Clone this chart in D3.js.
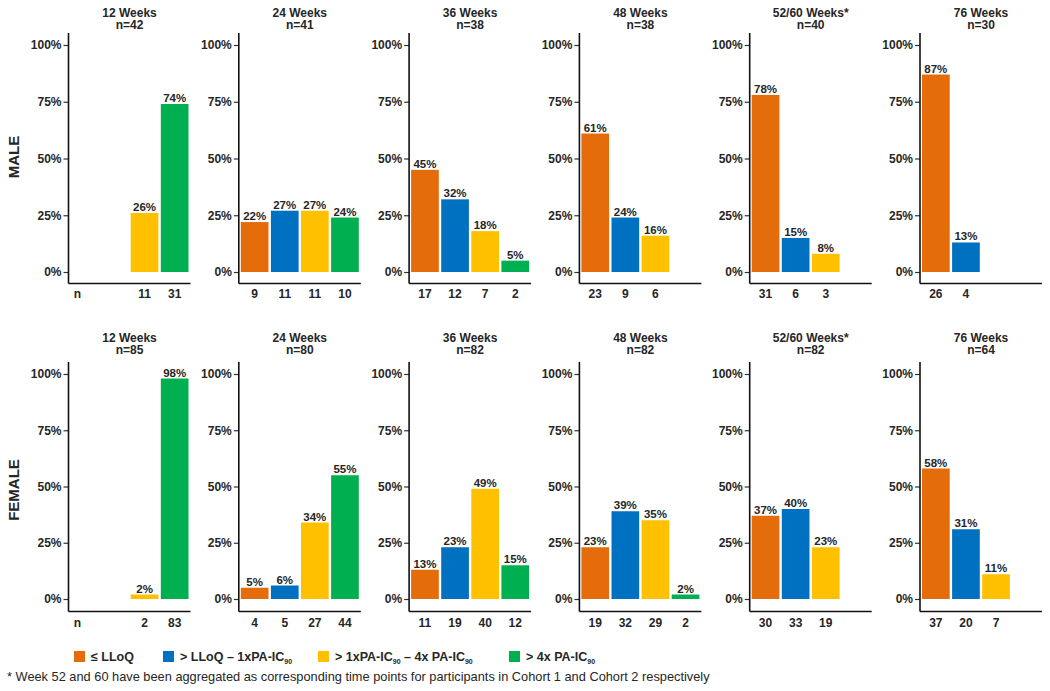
<!DOCTYPE html>
<html>
<head>
<meta charset="utf-8">
<script src="https://cdn.jsdelivr.net/npm/d3@7"></script>
<style>
  html, body { margin: 0; padding: 0; background: #fff; }
  svg { display: block; font-family: "Liberation Sans", Arial, sans-serif; }
</style>
</head>
<body>
<svg id="chart" width="1050" height="691"></svg>
<script>
// ---- data ----
const categories = ["≤ LLoQ", "> LLoQ – 1xPA-IC90", "> 1xPA-IC90 – 4x PA-IC90", "> 4x PA-IC90"];
const colors = ["#E46C0A", "#0070C0", "#FFC000", "#00B050"];
const timepoints = ["12 Weeks", "24 Weeks", "36 Weeks", "48 Weeks", "52/60 Weeks*", "76 Weeks"];
const yTicks = [0, 25, 50, 75, 100];
const rows = ["MALE", "FEMALE"];

const maleN = [42, 41, 38, 38, 40, 30];
const malePct = [
  [null, null, 26, 74],
  [22, 27, 27, 24],
  [45, 32, 18, 5],
  [61, 24, 16, null],
  [78, 15, 8, null],
  [87, 13, null, null]
];
const maleCounts = [
  [null, null, 11, 31],
  [9, 11, 11, 10],
  [17, 12, 7, 2],
  [23, 9, 6, null],
  [31, 6, 3, null],
  [26, 4, null, null]
];

const femaleN = [85, 80, 82, 82, 82, 64];
const femalePct = [
  [null, null, 2, 98],
  [5, 6, 34, 55],
  [13, 23, 49, 15],
  [23, 39, 35, 2],
  [37, 40, 23, null],
  [58, 31, 11, null]
];
const femaleCounts = [
  [null, null, 2, 83],
  [4, 5, 27, 44],
  [11, 19, 40, 12],
  [19, 32, 29, 2],
  [30, 33, 19, null],
  [37, 20, 7, null]
];

const footnote = "* Week 52 and 60 have been aggregated as corresponding time points for participants in Cohort 1 and Cohort 2 respectively";

// ---- layout ----
const svg = d3.select("#chart");
const textColor = "#262626";
const panelX = d3.scalePoint().domain(d3.range(6)).range([68.5, 920]);
const panelW = 122;
const rowLayout = [
  { y0: 272, y100: 45, axisTop: 33, xAxisY: 283.5, t1: 17, t2: 29, nY: 298, labelY: 157,
    n: maleN, pct: malePct, counts: maleCounts },
  { y0: 599, y100: 374, axisTop: 362, xAxisY: 611.5, t1: 342, t2: 354, nY: 627, labelY: 490,
    n: femaleN, pct: femalePct, counts: femaleCounts }
];

rowLayout.forEach((R, ri) => {
  // row label
  svg.append("text")
    .attr("transform", `translate(19,${R.labelY}) rotate(-90)`)
    .attr("text-anchor", "middle")
    .attr("font-size", 15).attr("font-weight", "bold").attr("fill", textColor)
    .text(rows[ri]);

  const y = d3.scaleLinear().domain([0, 100]).range([R.y0, R.y100]);

  timepoints.forEach((tp, ci) => {
    const ax = panelX(ci);
    const g = svg.append("g");
    const x = d3.scaleBand().domain(d3.range(categories.length))
      .range([ax + 2, ax + 120]).paddingInner(0.08).paddingOuter(0);

    // title
    g.append("text").attr("x", ax + 61).attr("y", R.t1).attr("text-anchor", "middle")
      .attr("font-size", 12).attr("font-weight", "bold").attr("fill", textColor).text(tp);
    g.append("text").attr("x", ax + 61).attr("y", R.t2).attr("text-anchor", "middle")
      .attr("font-size", 12).attr("font-weight", "bold").attr("fill", textColor).text("n=" + R.n[ci]);

    // y axis
    const yAxis = d3.axisLeft(y).tickValues(yTicks).tickFormat(d => d + "%").tickSize(5).tickPadding(2);
    const ya = g.append("g").attr("transform", `translate(${ax},0)`).call(yAxis);
    ya.select(".domain").remove();
    ya.selectAll(".tick line").attr("stroke", "#333").attr("stroke-width", 1.2);
    ya.selectAll(".tick text").attr("font-size", 12).attr("font-weight", "bold")
      .attr("fill", textColor).attr("font-family", "Liberation Sans, Arial, sans-serif");

    // axis lines
    g.append("line").attr("x1", ax).attr("x2", ax).attr("y1", R.axisTop).attr("y2", R.xAxisY)
      .attr("stroke", "#111").attr("stroke-width", 1.6);
    g.append("line").attr("x1", ax).attr("x2", ax + panelW).attr("y1", R.xAxisY).attr("y2", R.xAxisY)
      .attr("stroke", "#111").attr("stroke-width", 1.6);

    const vals = R.pct[ci];
    const cnts = R.counts[ci];
    vals.forEach((v, k) => {
      if (v == null) return;
      g.append("rect").attr("x", x(k)).attr("width", x.bandwidth())
        .attr("y", y(v)).attr("height", y(0) - y(v)).attr("fill", colors[k]);
      g.append("text").attr("x", x(k) + x.bandwidth() / 2).attr("y", y(v) - 2)
        .attr("text-anchor", "middle").attr("font-size", 11.5).attr("font-weight", "bold")
        .attr("fill", textColor).text(v + "%");
      g.append("text").attr("x", x(k) + x.bandwidth() / 2).attr("y", R.nY)
        .attr("text-anchor", "middle").attr("font-size", 12).attr("font-weight", "bold")
        .attr("fill", textColor).text(cnts[k]);
    });
    if (ci === 0) {
      g.append("text").attr("x", ax + 9).attr("y", R.nY).attr("text-anchor", "middle")
        .attr("font-size", 12).attr("font-weight", "bold").attr("fill", textColor).text("n");
    }
  });
});

// ---- legend ----
const legendX = [74, 163, 318, 509];
const legendY = 651;
const lg = svg.append("g");
categories.forEach((c, i) => {
  lg.append("rect").attr("x", legendX[i]).attr("y", legendY).attr("width", 11).attr("height", 11)
    .attr("fill", colors[i]);
  const t = lg.append("text").attr("x", legendX[i] + 17).attr("y", legendY + 10)
    .attr("font-size", 12.5).attr("font-weight", "bold").attr("fill", textColor);
  // split into segments; "IC90" gets subscript 90
  const segs = c.split("IC90");
  let shifted = false;
  segs.forEach((p, j) => {
    const main = (j < segs.length - 1) ? p + "IC" : p;
    if (main) {
      t.append("tspan").attr("dy", shifted ? -3 : 0).text(main);
      shifted = false;
    }
    if (j < segs.length - 1) {
      t.append("tspan").attr("font-size", 7).attr("dy", 3).text("90");
      shifted = true;
    }
  });
});

svg.append("text").attr("x", 7).attr("y", 681).attr("font-size", 12.8)
  .attr("fill", textColor).text(footnote);
</script>
</body>
</html>
